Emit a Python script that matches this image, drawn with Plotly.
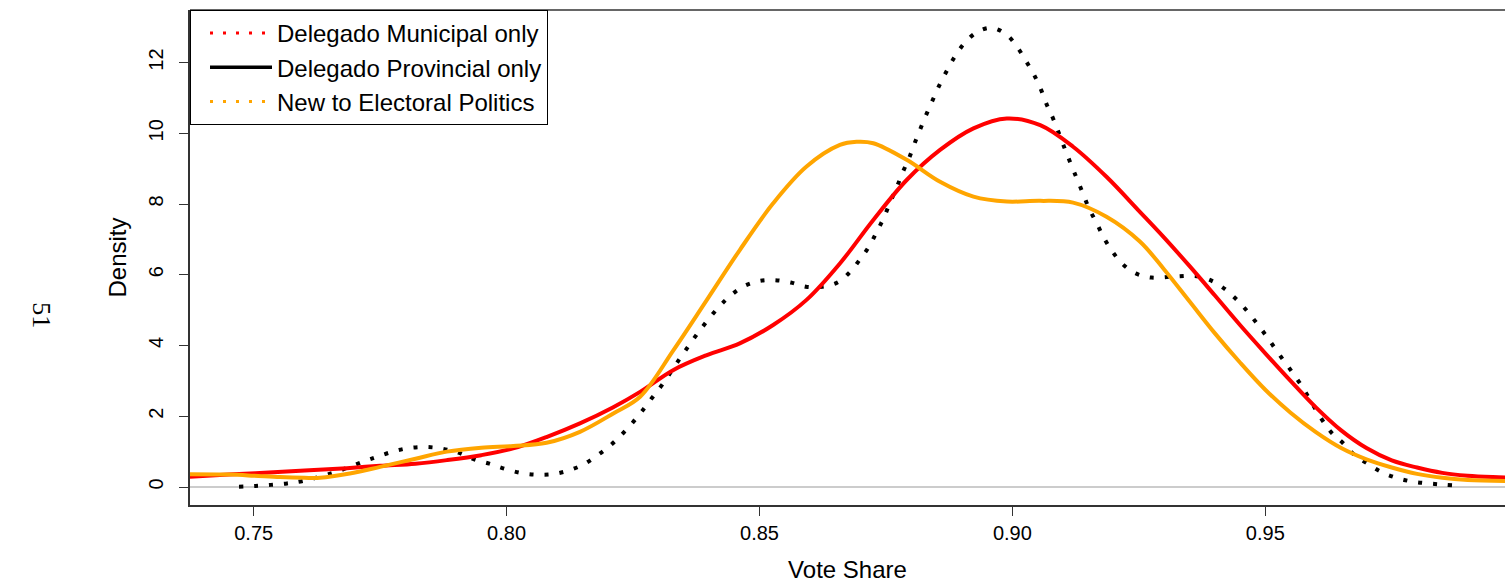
import plotly.graph_objects as go

# ---- data ----
x_ticks = [0.75, 0.80, 0.85, 0.90, 0.95]
x_tick_labels = ["0.75", "0.80", "0.85", "0.90", "0.95"]
y_ticks = [0, 2, 4, 6, 8, 10, 12]
y_tick_labels = ["0", "2", "4", "6", "8", "10", "12"]

legend_names = ["Delegado Municipal only", "Delegado Provincial only", "New to Electoral Politics"]

# black dotted density
black_x = [0.7471, 0.7503, 0.7534, 0.7566, 0.7597, 0.7659, 0.7719, 0.7749, 0.7780, 0.7811,
           0.7843, 0.7874, 0.7905, 0.7936, 0.7966, 0.7995, 0.8027, 0.8058, 0.8090, 0.8121,
           0.8151, 0.8177, 0.8203, 0.8226, 0.8248, 0.8268, 0.8287, 0.8307, 0.8343, 0.8379,
           0.8419, 0.8442, 0.8468, 0.8498, 0.8529, 0.8562, 0.8592, 0.8623, 0.8655, 0.8679,
           0.8699, 0.8717, 0.8732, 0.8746, 0.8758, 0.8771, 0.8783, 0.8796, 0.8807, 0.8819,
           0.8831, 0.8844, 0.8857, 0.8872, 0.8888, 0.8906, 0.8931, 0.8960, 0.8989, 0.9010,
           0.9027, 0.9043, 0.9057, 0.9068, 0.9081, 0.9104, 0.9116, 0.9128, 0.9140, 0.9152,
           0.9167, 0.9181, 0.9198, 0.9218, 0.9244, 0.9275, 0.9320, 0.9370, 0.9410, 0.9450,
           0.9490, 0.9530, 0.9570, 0.9610, 0.9630, 0.9653, 0.9676, 0.9703, 0.9730, 0.9761,
           0.9792, 0.9824, 0.9856, 0.9887]
black_y = [0.01, 0.03, 0.06, 0.10, 0.17, 0.41, 0.73, 0.88, 1.02, 1.11,
           1.13, 1.08, 0.97, 0.78, 0.66, 0.52, 0.40, 0.35, 0.36, 0.46,
           0.63, 0.87, 1.15, 1.46, 1.80, 2.15, 2.51, 2.88, 3.64, 4.37,
           5.08, 5.40, 5.67, 5.82, 5.85, 5.78, 5.66, 5.66, 5.79, 6.08,
           6.44, 6.81, 7.22, 7.62, 8.04, 8.46, 8.89, 9.31, 9.73, 10.16,
           10.57, 10.99, 11.40, 11.81, 12.21, 12.56, 12.87, 12.98, 12.78, 12.43,
           12.04, 11.65, 11.22, 10.81, 10.40, 9.55, 9.12, 8.70, 8.28, 7.86,
           7.45, 7.04, 6.65, 6.30, 6.04, 5.92, 5.95, 5.95, 5.70, 5.20,
           4.50, 3.70, 2.90, 1.95, 1.55, 1.25, 0.91, 0.65, 0.42, 0.25,
           0.15, 0.10, 0.06, 0.03]

# red solid density
red_x = [0.7374, 0.7450, 0.7530, 0.7610, 0.7684, 0.7750, 0.7820, 0.7882, 0.7950, 0.8013,
         0.8080, 0.8145, 0.8210, 0.8264, 0.8330, 0.8396, 0.8461, 0.8527, 0.8593, 0.8659,
         0.8725, 0.8791, 0.8857, 0.8923, 0.8989, 0.9055, 0.9120, 0.9186, 0.9252, 0.9300,
         0.9350, 0.9400, 0.9450, 0.9500, 0.9550, 0.9600, 0.9650, 0.9700, 0.9750, 0.9800,
         0.9850, 0.9900, 0.9950, 0.9974]
red_y = [0.29, 0.35, 0.41, 0.47, 0.53, 0.60, 0.66, 0.76, 0.90, 1.09,
         1.42, 1.80, 2.25, 2.69, 3.31, 3.73, 4.06, 4.58, 5.29, 6.32,
         7.55, 8.68, 9.53, 10.14, 10.42, 10.23, 9.62, 8.77, 7.78, 7.05,
         6.25, 5.42, 4.58, 3.78, 3.00, 2.25, 1.60, 1.10, 0.75, 0.55,
         0.40, 0.32, 0.28, 0.27]

# orange solid density
orange_x = [0.7374, 0.7453, 0.7500, 0.7552, 0.7600, 0.7631, 0.7690, 0.7750, 0.7820, 0.7882,
            0.7950, 0.8013, 0.8079, 0.8145, 0.8211, 0.8264, 0.8330, 0.8396, 0.8461, 0.8527,
            0.8593, 0.8659, 0.8692, 0.8725, 0.8791, 0.8857, 0.8923, 0.8989, 0.9055, 0.9120,
            0.9186, 0.9252, 0.9300, 0.9350, 0.9400, 0.9450, 0.9500, 0.9550, 0.9600, 0.9650,
            0.9700, 0.9750, 0.9800, 0.9850, 0.9900, 0.9974]
orange_y = [0.36, 0.35, 0.32, 0.28, 0.26, 0.26, 0.38, 0.57, 0.80, 1.00,
            1.11, 1.16, 1.25, 1.56, 2.08, 2.55, 3.87, 5.29, 6.70, 8.02,
            9.06, 9.67, 9.76, 9.72, 9.25, 8.63, 8.21, 8.07, 8.09, 8.04,
            7.64, 6.94, 6.15, 5.25, 4.35, 3.52, 2.75, 2.10, 1.55, 1.10,
            0.78, 0.55, 0.37, 0.26, 0.20, 0.17]

RED = "#FF0000"
ORANGE = "#FFA500"
BLACK = "#000000"
FONT = "Liberation Sans, Arial, Helvetica, sans-serif"

fig = go.Figure()

fig.add_trace(go.Scatter(x=black_x, y=black_y, mode="lines", showlegend=False,
                         line=dict(color=BLACK, width=4, dash="4px,11px", shape="spline", smoothing=1.0)))
fig.add_trace(go.Scatter(x=red_x, y=red_y, mode="lines", showlegend=False,
                         line=dict(color=RED, width=4, shape="spline", smoothing=1.0)))
fig.add_trace(go.Scatter(x=orange_x, y=orange_y, mode="lines", showlegend=False,
                         line=dict(color=ORANGE, width=4, shape="spline", smoothing=1.0)))

# legend entries (styled as in the original legend)
fig.add_trace(go.Scatter(x=[None], y=[None], mode="lines", name=legend_names[0],
                         line=dict(color=RED, width=3, dash="3px,10px")))
fig.add_trace(go.Scatter(x=[None], y=[None], mode="lines", name=legend_names[1],
                         line=dict(color=BLACK, width=3.5)))
fig.add_trace(go.Scatter(x=[None], y=[None], mode="lines", name=legend_names[2],
                         line=dict(color=ORANGE, width=3, dash="3px,10px")))

fig.update_layout(
    width=1505, height=586,
    margin=dict(l=190, r=0, t=10, b=81),
    paper_bgcolor="white", plot_bgcolor="white",
    font=dict(family=FONT, color="black"),
    showlegend=True,
    legend=dict(x=0, y=1, xanchor="left", yanchor="top",
                bgcolor="white", bordercolor="black", borderwidth=1,
                font=dict(size=24, family=FONT), itemwidth=62, indentation=14,
                tracegroupgap=0),
    xaxis=dict(range=[0.73741, 0.99739], tickvals=x_ticks, ticktext=x_tick_labels,
               showgrid=False, zeroline=False, showline=True, linecolor="#333333", linewidth=1.5,
               ticks="outside", ticklen=9, tickcolor="#333333", tickfont=dict(size=20),
               title=dict(text="Vote Share", font=dict(size=24), standoff=18)),
    yaxis=dict(range=[-0.509, 13.486], tickvals=y_ticks, ticktext=y_tick_labels,
               showgrid=False, zeroline=True, zerolinecolor="#cccccc", zerolinewidth=1.5,
               showline=True, linecolor="#333333", linewidth=1.5,
               ticks="outside", ticklen=9, tickcolor="#333333", tickangle=-90,
               tickfont=dict(size=20), ticklabelstandoff=8,
               title=dict(text="Density", font=dict(size=24), standoff=12)),
    shapes=[dict(type="line", xref="paper", yref="paper", x0=0, x1=1, y0=1, y1=1,
                 line=dict(color="#333333", width=1.5))],
    annotations=[dict(text="51", xref="paper", yref="paper", x=-0.1135, y=0.384,
                      xanchor="center", yanchor="middle", showarrow=False, textangle=90,
                      font=dict(family="Liberation Serif, Times New Roman, serif", size=26, color="black"))],
)

fig.write_html("out.html", config={"displayModeBar": False},
               post_script="document.body.style.margin='0';")
